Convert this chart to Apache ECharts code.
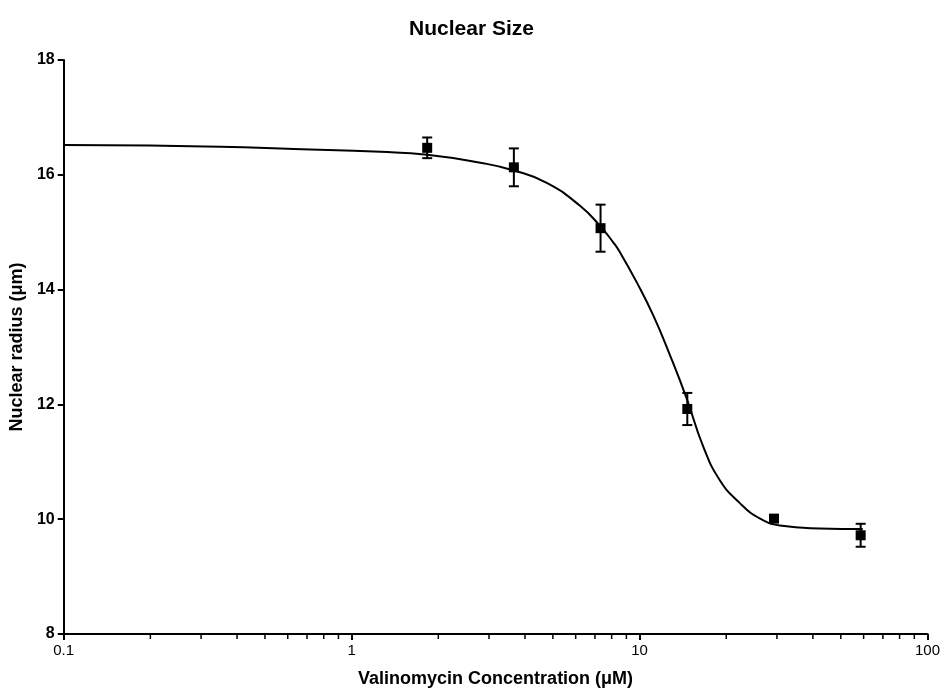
<!DOCTYPE html>
<html>
<head>
<meta charset="utf-8">
<title>Nuclear Size</title>
<script src="https://cdn.jsdelivr.net/npm/echarts@6/dist/echarts.min.js"></script>
<style>
  html, body { margin: 0; padding: 0; background: #fff; }
  #chart { width: 943px; height: 693px; }
</style>
</head>
<body>
<div id="chart"></div>
<script>
// measured points (concentration, mean radius, error)
const conc = [1.83, 3.66, 7.32, 14.65, 29.3, 58.6];
const radius = [16.47, 16.13, 15.07, 11.92, 10.01, 9.72];
const errs = [0.18, 0.33, 0.41, 0.28, 0.05, 0.2];

// fitted curve
const curveX = [0.1, 0.2, 0.35, 0.63, 1.26, 1.83, 2.8, 3.63, 4.76, 6.21, 7.29, 8.11, 8.55, 9.77, 11.16, 12.75, 14.56, 16.63, 19.0, 22.3, 26.2, 30.7, 42.2, 59.6];
const curveY = [16.52, 16.51, 16.49, 16.45, 16.40, 16.35, 16.21, 16.08, 15.86, 15.46, 15.11, 14.82, 14.65, 14.13, 13.55, 12.86, 12.11, 11.27, 10.68, 10.28, 10.01, 9.89, 9.84, 9.83];

// log axis minor ticks
const minorTicks = [0.2, 0.3, 0.4, 0.5, 0.6, 0.7, 0.8, 0.9, 2, 3, 4, 5, 6, 7, 8, 9, 20, 30, 40, 50, 60, 70, 80, 90];

const FONT = 'Liberation Sans, Arial, sans-serif';
const chart = echarts.init(document.getElementById('chart'));

chart.setOption({
  animation: false,
  backgroundColor: '#fff',
  title: {
    text: 'Nuclear Size',
    left: 'center',
    top: 14,
    textStyle: { fontFamily: FONT, fontSize: 21, fontWeight: 'bold', color: '#000' }
  },
  grid: { left: 63, right: 15, top: 60, bottom: 56 },
  xAxis: {
    type: 'log',
    logBase: 10,
    min: 0.1,
    max: 100,
    name: 'Valinomycin Concentration (\u03bcM)',
    nameLocation: 'middle',
    nameGap: 36,
    nameTextStyle: { fontFamily: FONT, fontSize: 18, fontWeight: 'bold', color: '#000' },
    axisLine: { lineStyle: { color: '#000', width: 2 } },
    axisTick: { length: 6, lineStyle: { color: '#000', width: 2 } },
    axisLabel: {
      fontFamily: FONT, fontSize: 15, color: '#000', margin: 9,
      formatter: v => String(v)
    },
    splitLine: { show: false }
  },
  yAxis: {
    type: 'value',
    min: 8,
    max: 18,
    interval: 2,
    name: 'Nuclear radius (\u03bcm)',
    nameLocation: 'middle',
    nameGap: 33,
    nameTextStyle: { fontFamily: FONT, fontSize: 18, fontWeight: 'bold', color: '#000' },
    axisLine: { show: true, lineStyle: { color: '#000', width: 2 } },
    axisTick: { show: true, length: 6, lineStyle: { color: '#000', width: 2 } },
    axisLabel: { fontFamily: FONT, fontSize: 16, fontWeight: 'bold', color: '#000', margin: 9 },
    splitLine: { show: false }
  },
  series: [
    {
      type: 'line',
      data: curveX.map((x, i) => [x, curveY[i]]),
      smooth: 0.5,
      showSymbol: false,
      lineStyle: { color: '#000', width: 2 },
      z: 2
    },
    {
      type: 'custom',
      data: conc.map((x, i) => [x, radius[i], errs[i]]),
      renderItem: (params, api) => {
        const x = api.value(0), y = api.value(1), e = api.value(2);
        const hi = api.coord([x, y + e]);
        const lo = api.coord([x, y - e]);
        const hw = 5;
        const st = { stroke: '#000', lineWidth: 2 };
        return {
          type: 'group',
          children: [
            { type: 'line', shape: { x1: hi[0], y1: hi[1], x2: lo[0], y2: lo[1] }, style: st },
            { type: 'line', shape: { x1: hi[0] - hw, y1: hi[1], x2: hi[0] + hw, y2: hi[1] }, style: st },
            { type: 'line', shape: { x1: lo[0] - hw, y1: lo[1], x2: lo[0] + hw, y2: lo[1] }, style: st }
          ]
        };
      },
      z: 3
    },
    {
      type: 'scatter',
      data: conc.map((x, i) => [x, radius[i]]),
      symbol: 'rect',
      symbolSize: 10,
      itemStyle: { color: '#000', opacity: 1 },
      z: 4
    },
    {
      type: 'custom',
      clip: false,
      silent: true,
      data: minorTicks.map(v => [v, 8]),
      renderItem: (params, api) => {
        const p = api.coord([api.value(0), api.value(1)]);
        return {
          type: 'line',
          shape: { x1: p[0], y1: p[1], x2: p[0], y2: p[1] + 5 },
          style: { stroke: '#000', lineWidth: 1.5 }
        };
      },
      z: 1
    }
  ]
});
</script>
</body>
</html>
